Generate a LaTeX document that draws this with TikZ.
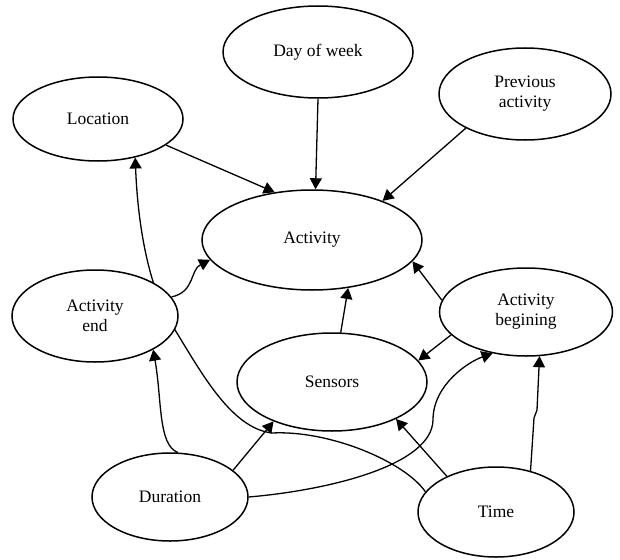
\documentclass[tikz,border=0pt]{standalone}
\usepackage{fontspec}
\setmainfont{Liberation Serif}
\usetikzlibrary{arrows.meta,shapes.geometric,backgrounds}
\begin{document}
\begin{tikzpicture}[x=1pt,y=-1pt,
  ell/.style={ellipse,draw,fill=white,line width=1.5pt,inner sep=0pt,align=center,
    font=\fontsize{17.5}{20}\selectfont},
  arr/.style={line width=1.3pt,-{Triangle[length=11pt,width=12pt]}}]
\useasboundingbox (0,0) rectangle (620,559);
\node[ell,minimum width=190pt,minimum height=92pt] (day) at (318,52) {Day of week};
\node[ell,minimum width=170pt,minimum height=84pt] (loc) at (98,119) {Location};
\node[ell,minimum width=172pt,minimum height=92pt] (prev) at (525,94) {Previous\\activity};
\node[ell,minimum width=220pt,minimum height=100pt] (act) at (312,240) {Activity};
\node[ell,minimum width=166pt,minimum height=92pt] (aend) at (95,316) {Activity\\end};
\node[ell,minimum width=173pt,minimum height=88pt] (abeg) at (526,312) {Activity\\begining};
\node[ell,minimum width=190pt,minimum height=98pt] (sens) at (332,382) {Sensors};
\node[ell,minimum width=156pt,minimum height=88pt] (dur) at (170,497) {Duration};
\node[ell,minimum width=156pt,minimum height=90pt] (time) at (496,512) {Time};
\begin{pgfonlayer}{background}
\draw[arr] (loc.-21) -- (act.128);
\draw[arr] (day.south) -- (act.86.5);
\draw[arr] (prev.210) -- (act.29.5);
\draw[arr] (aend.14) .. controls (195,292) and (190,270) .. (act.191);
\draw[arr] (time.164) .. controls (405,462) and (330,430) .. (272,433)
  .. controls (230,428) and (200,370) .. (172,325)
  .. controls (150,290) and (138,230) .. (loc.-46);
\draw[arr] (dur.80) .. controls (158,445) and (162,400) .. (aend.-30);
\draw[arr] (dur.23) -- (sens.214);
\draw[arr] (dur.east) .. controls (330,490) and (432,465) .. (433,420)
  .. controls (433,385) and (468,362) .. (abeg.231);
\draw[arr] (time.144) -- (sens.-30.5);
\draw[arr] (time.50) -- (534,418) -- (537,410) -- (abeg.-73);
\draw[arr] (abeg.197) -- (sens.14);
\draw[arr] (abeg.172) -- (act.-12);
\draw[arr] (sens.80) -- (act.-53);
\end{pgfonlayer}
\end{tikzpicture}
\end{document}
